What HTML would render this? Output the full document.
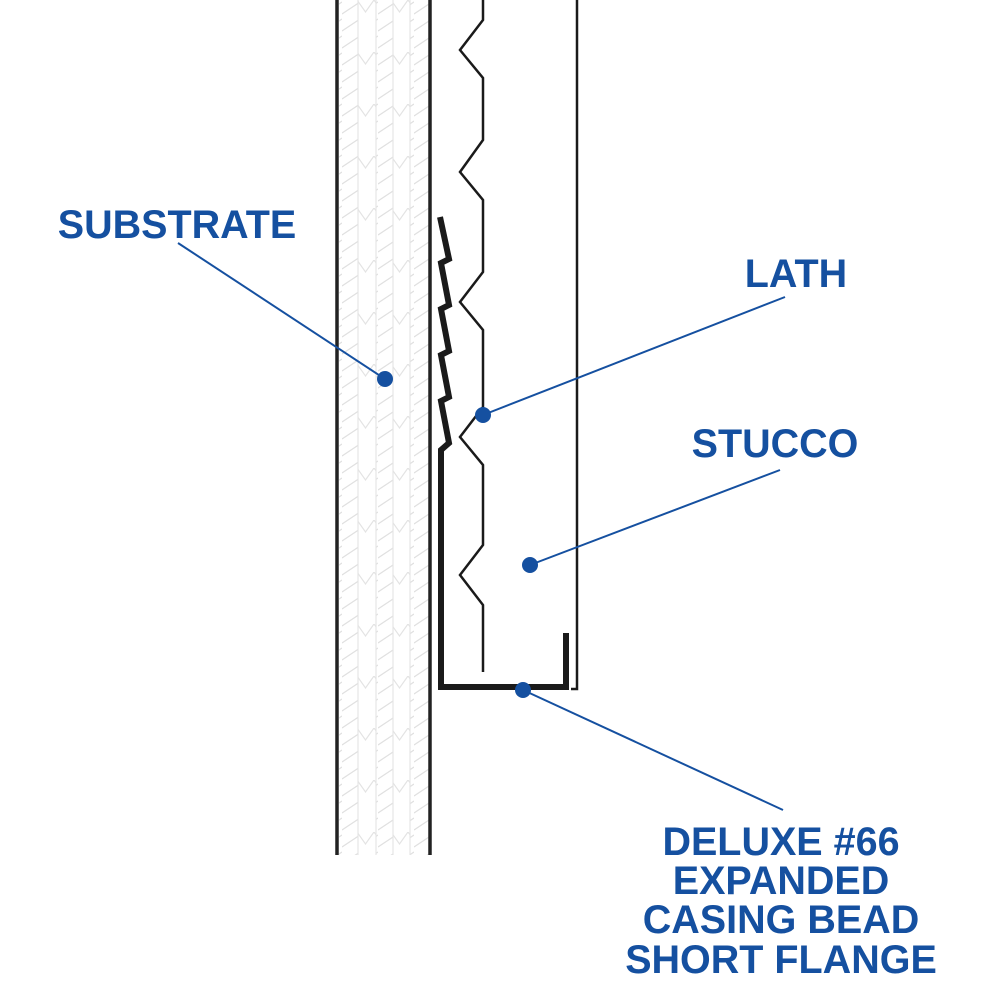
<!DOCTYPE html>
<html><head><style>
html,body{margin:0;padding:0;background:#fff;}
svg{display:block}
text{font-family:"Liberation Sans",Arial,sans-serif;font-weight:bold;fill:#1550a0;font-size:39.5px;}
</style></head><body>
<svg width="1000" height="1000" viewBox="0 0 1000 1000" xmlns="http://www.w3.org/2000/svg">
<defs>
<pattern id="hatch" x="0" y="0" width="18" height="17" patternUnits="userSpaceOnUse">
<line x1="0" y1="14" x2="18" y2="2" stroke="#e0e0e0" stroke-width="1.2"/>
</pattern>
<pattern id="chev" x="0" y="0" width="17" height="52" patternUnits="userSpaceOnUse">
<polyline points="0,0 8.5,12 17,0" fill="none" stroke="#e3e3e3" stroke-width="1.2"/>
</pattern>
</defs>
<rect x="339" y="0" width="19" height="855" fill="url(#hatch)"/>
<rect x="376" y="0" width="17" height="855" fill="url(#hatch)"/>
<rect x="410" y="0" width="19" height="855" fill="url(#hatch)"/>
<rect x="358" y="0" width="18" height="855" fill="url(#chev)"/>
<rect x="393" y="0" width="17" height="855" fill="url(#chev)"/>
<g stroke="#e5e5e5" stroke-width="1.2">
<line x1="358" y1="0" x2="358" y2="855"/><line x1="376" y1="0" x2="376" y2="855"/>
<line x1="393" y1="0" x2="393" y2="855"/><line x1="410" y1="0" x2="410" y2="855"/>
</g>
<line x1="337" y1="0" x2="337" y2="855" stroke="#222" stroke-width="3.5"/>
<line x1="430" y1="0" x2="430" y2="855" stroke="#222" stroke-width="3.5"/>
<polyline fill="none" stroke="#1a1a1a" stroke-width="2.5" stroke-linejoin="miter"
points="483,0 483,20 460,50 483,78 483,140 460,172 483,200 483,272 460,302 483,330 483,407 460,437 483,465 483,545 460,575 483,605 483,672"/>
<polyline fill="none" stroke="#1a1a1a" stroke-width="2.5" points="577,0 577,689 571,689"/>
<polyline fill="none" stroke="#1a1a1a" stroke-width="6" stroke-linejoin="miter"
points="440,217 449,259 441,263 449,305 441,309 449,351 441,355 449,397 441,401 449,443 441,450 441,687 566,687 566,633"/>
<g stroke="#1550a0" stroke-width="2" fill="none">
<line x1="178" y1="243" x2="385" y2="379"/>
<line x1="785" y1="297" x2="483" y2="415"/>
<line x1="780" y1="470" x2="530" y2="565"/>
<line x1="523" y1="690" x2="783" y2="810"/>
</g>
<g fill="#1550a0">
<circle cx="385" cy="379" r="8"/>
<circle cx="483" cy="415" r="8"/>
<circle cx="530" cy="565" r="8"/>
<circle cx="523" cy="690" r="8"/>
</g>
<text x="177" y="238" text-anchor="middle">SUBSTRATE</text>
<text x="796" y="287" text-anchor="middle">LATH</text>
<text x="775" y="457" text-anchor="middle">STUCCO</text>
<text x="781" y="855" text-anchor="middle">DELUXE #66</text>
<text x="781" y="894" text-anchor="middle">EXPANDED</text>
<text x="781" y="933" text-anchor="middle">CASING BEAD</text>
<text x="781" y="973" text-anchor="middle">SHORT FLANGE</text>
</svg>
</body></html>
